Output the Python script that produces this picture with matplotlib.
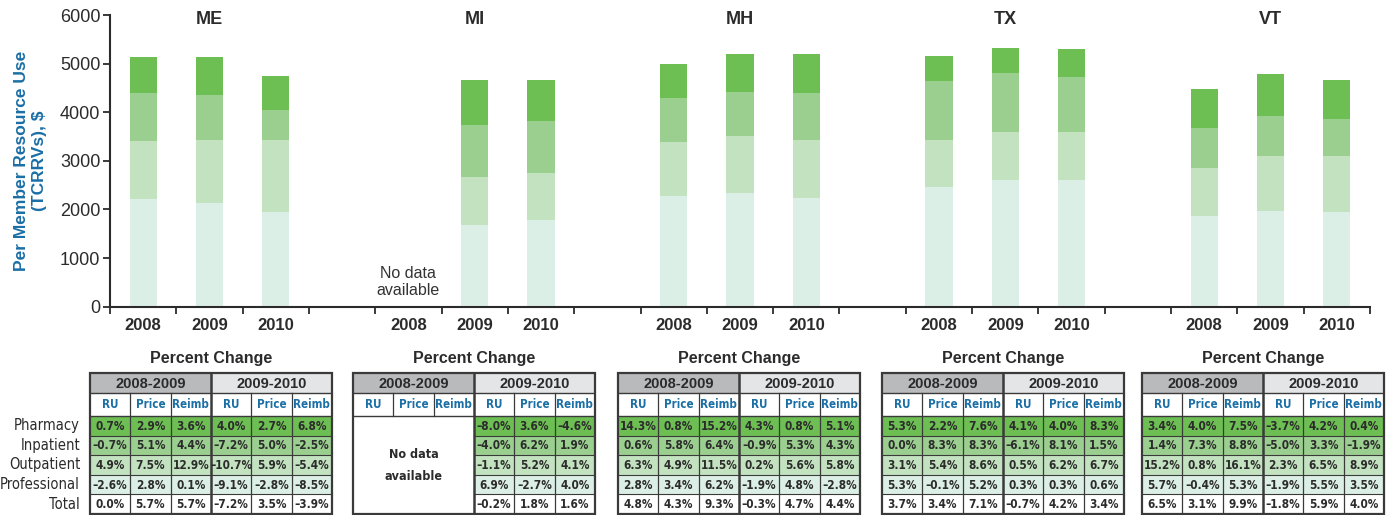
import numpy as np
import matplotlib.pyplot as plt
from matplotlib import font_manager
from matplotlib.patches import Rectangle

# --- data ---
states = ['ME', 'MI', 'MH', 'TX', 'VT']
years = ['2008', '2009', '2010']

# segment heights per state/year (MI 2008 has no data -> 0)
professional = [2215, 2133, 1948, 0, 1681, 1784, 2277, 2339, 2236, 2462, 2606, 2606, 1866, 1969, 1948]
outpatient = [1195, 1297, 1482, 0, 987, 966, 1111, 1172, 1194, 968, 988, 988, 987, 1131, 1152]
inpatient = [986, 925, 616, 0, 1070, 1070, 905, 906, 966, 1213, 1213, 1131, 823, 824, 762]
pharmacy = [734, 775, 699, 0, 925, 843, 700, 781, 802, 514, 514, 576, 802, 863, 801]

row_names = ['Pharmacy', 'Inpatient', 'Outpatient', 'Professional', 'Total']
periods = ['2008-2009', '2009-2010']
measures = ['RU', 'Price', 'Reimb']

pct_me = [['0.7%', '2.9%', '3.6%', '4.0%', '2.7%', '6.8%'],
          ['–0.7%', '5.1%', '4.4%', '–7.2%', '5.0%', '–2.5%'],
          ['4.9%', '7.5%', '12.9%', '–10.7%', '5.9%', '–5.4%'],
          ['–2.6%', '2.8%', '0.1%', '–9.1%', '–2.8%', '–8.5%'],
          ['0.0%', '5.7%', '5.7%', '–7.2%', '3.5%', '–3.9%']]
pct_mi = [[None, None, None, '–8.0%', '3.6%', '–4.6%'],
          [None, None, None, '–4.0%', '6.2%', '1.9%'],
          [None, None, None, '–1.1%', '5.2%', '4.1%'],
          [None, None, None, '6.9%', '–2.7%', '4.0%'],
          [None, None, None, '–0.2%', '1.8%', '1.6%']]
pct_mh = [['14.3%', '0.8%', '15.2%', '4.3%', '0.8%', '5.1%'],
          ['0.6%', '5.8%', '6.4%', '–0.9%', '5.3%', '4.3%'],
          ['6.3%', '4.9%', '11.5%', '0.2%', '5.6%', '5.8%'],
          ['2.8%', '3.4%', '6.2%', '–1.9%', '4.8%', '–2.8%'],
          ['4.8%', '4.3%', '9.3%', '–0.3%', '4.7%', '4.4%']]
pct_tx = [['5.3%', '2.2%', '7.6%', '4.1%', '4.0%', '8.3%'],
          ['0.0%', '8.3%', '8.3%', '–6.1%', '8.1%', '1.5%'],
          ['3.1%', '5.4%', '8.6%', '0.5%', '6.2%', '6.7%'],
          ['5.3%', '–0.1%', '5.2%', '0.3%', '0.3%', '0.6%'],
          ['3.7%', '3.4%', '7.1%', '–0.7%', '4.2%', '3.4%']]
pct_vt = [['3.4%', '4.0%', '7.5%', '–3.7%', '4.2%', '0.4%'],
          ['1.4%', '7.3%', '8.8%', '–5.0%', '3.3%', '–1.9%'],
          ['15.2%', '0.8%', '16.1%', '2.3%', '6.5%', '8.9%'],
          ['5.7%', '–0.4%', '5.3%', '–1.9%', '5.5%', '3.5%'],
          ['6.5%', '3.1%', '9.9%', '–1.8%', '5.9%', '4.0%']]
tables = [pct_me, pct_mi, pct_mh, pct_tx, pct_vt]

# --- fonts: try to find a condensed face for the tables ---
fonts = font_manager.fontManager.ttflist
names = {f.name for f in fonts}
main_font = 'Liberation Sans' if 'Liberation Sans' in names else 'DejaVu Sans'
plt.rcParams['font.family'] = [main_font, 'DejaVu Sans']

narrow = dict(family=[main_font, 'DejaVu Sans'])
val_size, sub_size, lab_size = 8, 8.3, 10
if 'Liberation Sans Narrow' in names:
    narrow = dict(family=['Liberation Sans Narrow', 'DejaVu Sans'])
    val_size, sub_size, lab_size = 9.5, 10, 11.5
elif any(f.name == 'DejaVu Sans' and 'condensed' in str(f.stretch) for f in fonts):
    narrow = dict(family=['DejaVu Sans'], fontstretch='condensed')
    val_size, sub_size, lab_size = 8.5, 8.3, 10.5

c_pharm = '#6dbe53'
c_inp = '#9bcf8f'
c_outp = '#c3e2c0'
c_prof = '#dcefe6'
row_colors = [c_pharm, c_inp, c_outp, c_prof, 'white']
blue = '#1a6fa6'
dark = '#2b2b2b'
edge = '#3a3a3a'

W, H = 1391, 515
fig = plt.figure(figsize=(W / 100, H / 100), dpi=100)

# --- stacked bar chart ---
ax = fig.add_axes([110 / W, 1 - 306.7 / H, 1260 / W, 291.7 / H])
x = []
for g in range(len(states)):
    x += [4 * g, 4 * g + 1, 4 * g + 2]
x = np.array(x, dtype=float)
bw = 0.41
prof = np.array(professional, float)
outp = np.array(outpatient, float)
inp = np.array(inpatient, float)
pharm = np.array(pharmacy, float)
ax.bar(x, prof, bw, color=c_prof, linewidth=0)
ax.bar(x, outp, bw, bottom=prof, color=c_outp, linewidth=0)
ax.bar(x, inp, bw, bottom=prof + outp, color=c_inp, linewidth=0)
ax.bar(x, pharm, bw, bottom=prof + outp + inp, color=c_pharm, linewidth=0)

ax.set_xlim(-0.5, 18.5)
ax.set_ylim(0, 6000)
ax.set_yticks(range(0, 6001, 1000))
ax.set_xticks(x)
ax.set_xticklabels(years * len(states), fontweight='bold', fontsize=12, color=dark)
bounds = []
for g in range(len(states)):
    bounds += [4 * g - 0.5, 4 * g + 0.5, 4 * g + 1.5, 4 * g + 2.5]
ax.set_xticks(bounds, minor=True)
ax.tick_params(axis='x', which='major', length=0, pad=8)
ax.tick_params(axis='x', which='minor', length=5, width=1.3, direction='out', color=dark)
ax.tick_params(axis='y', length=5, width=1.3, direction='out', color=dark, labelsize=13,
               labelcolor=dark, pad=2)
for s in ['top', 'right']:
    ax.spines[s].set_visible(False)
for s in ['left', 'bottom']:
    ax.spines[s].set_linewidth(1.5)
    ax.spines[s].set_color(dark)
ax.set_ylabel('Per Member Resource Use\n(TCRRVs), $', color=blue, fontweight='bold',
              fontsize=12.5, labelpad=9, linespacing=1.3)

for g, st in enumerate(states):
    ax.text(4 * g + 1, 5900, st, ha='center', va='center', fontweight='bold',
            fontsize=13, color=dark)
ax.text(4, 510, 'No data\navailable', ha='center', va='center', fontsize=11.5,
        color='#333333', linespacing=1.15)

# --- percent change tables ---
lefts = [90, 353, 618, 882, 1142]
tw = 242
top, bottom = 373, 514
th = bottom - top
row_edges = [0, 20, 43] + [43 + 19.6 * (i + 1) for i in range(5)]
cw = tw / 6

for t, data in enumerate(tables):
    tax = fig.add_axes([lefts[t] / W, 1 - bottom / H, tw / W, th / H])
    tax.set_xlim(0, tw)
    tax.set_ylim(th, 0)
    tax.axis('off')

    # period header
    tax.add_patch(Rectangle((0, 0), tw / 2, 20, facecolor='#b9babc', edgecolor='none'))
    tax.add_patch(Rectangle((tw / 2, 0), tw / 2, 20, facecolor='#e4e5e6', edgecolor='none'))
    for p, per in enumerate(periods):
        tax.text(tw / 4 + p * tw / 2, 10.5, per, ha='center', va='center', fontweight='bold',
                 fontsize=10.5, color=dark)
    for c in range(6):
        tax.text((c + 0.5) * cw, 32, measures[c % 3], ha='center', va='center',
                 fontweight='bold', fontsize=sub_size, color=blue, **narrow)

    for r in range(5):
        y0, y1 = row_edges[r + 2], row_edges[r + 3]
        for c in range(6):
            val = data[r][c]
            if val is None:
                continue
            tax.add_patch(Rectangle((c * cw, y0), cw, y1 - y0, facecolor=row_colors[r],
                                    edgecolor='none'))
            tax.text((c + 0.5) * cw, (y0 + y1) / 2 + 0.5, val, ha='center', va='center',
                     fontweight='bold', fontsize=val_size, color=dark, **narrow)

    has_left = data[0][0] is not None
    if not has_left:
        tax.text(tw / 4, (row_edges[2] + th) / 2, 'No data\navailable', ha='center',
                 va='center', fontweight='bold', fontsize=9, color=dark,
                 linespacing=1.9, **narrow)

    # grid lines
    for i, yy in enumerate(row_edges[1:-1]):
        if i >= 2:
            tax.plot([tw / 2 if not has_left else 0, tw], [yy, yy], color=edge, lw=0.8)
        else:
            tax.plot([0, tw], [yy, yy], color=edge, lw=1.0)
    for c in range(1, 6):
        if c == 3:
            continue
        if c < 3 and not has_left:
            tax.plot([c * cw, c * cw], [20, 43], color=edge, lw=0.9)
        else:
            tax.plot([c * cw, c * cw], [20, th], color=edge, lw=0.9)
    tax.plot([tw / 2, tw / 2], [0, th], color=edge, lw=1.8)
    tax.add_patch(Rectangle((0, 0), tw, th, facecolor='none', edgecolor=edge, lw=1.6,
                            clip_on=False))

    fig.text((lefts[t] + tw / 2) / W, 1 - 358 / H, 'Percent Change', ha='center',
             va='center', fontweight='bold', fontsize=11.5, color=dark)

# row labels for the first table
for r, name in enumerate(row_names):
    yc = top + (row_edges[r + 2] + row_edges[r + 3]) / 2
    fig.text(80 / W, 1 - yc / H, name, ha='right', va='center', fontsize=lab_size,
             color=dark, **narrow)

fig.savefig('out.png', dpi=100)
